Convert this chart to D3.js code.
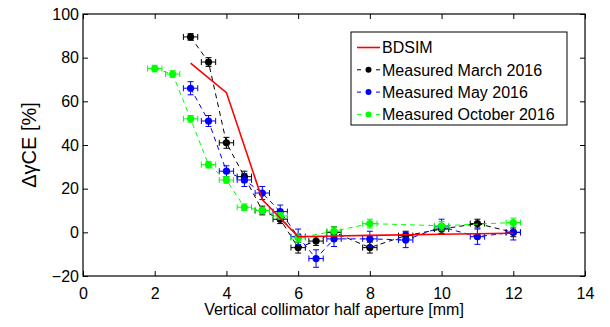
<!DOCTYPE html>
<html>
<head>
<meta charset="utf-8">
<script src="https://cdn.jsdelivr.net/npm/d3@7"></script>
<style>
  body { margin: 0; background: #fff; }
  text { font-family: "Liberation Sans", Arial, sans-serif; }
</style>
</head>
<body>
<div id="chart"></div>
<script>
// values
const bdsimX = [3, 4, 5, 6, 7, 8, 10, 12];
const bdsimY = [77.5, 64, 15, -2, -1.7, -1.4, -0.9, -0.4];

const marchX = [3, 3.5, 4, 4.5, 5, 5.5, 6, 6.5, 7, 8, 9, 10, 11, 12];
const marchY = [89.5, 78, 41, 25.5, 10, 6, -7, -4, 0, -7, -1.5, 1.5, 4, 0];
const marchErr = [1.5, 2, 2.5, 2.5, 2, 2, 2.5, 2, 2.5, 2.5, 2, 2, 2, 2];

const mayX = [3, 3.5, 4, 4.5, 5, 5.5, 6, 6.5, 7, 8, 9, 10, 11, 12];
const mayY = [66, 51, 28, 24, 18, 9.5, -2, -12, -3, -3, -3.5, 2.5, -2, 0];
const mayErr = [3, 2.5, 2.5, 3, 3, 3, 3.5, 4, 3.5, 3.5, 3.5, 3.5, 3.5, 3.5];

const octX = [2, 2.5, 3, 3.5, 4, 4.5, 5, 5.5, 6, 7, 8, 10, 12];
const octY = [75, 72.5, 52, 31, 24, 11.5, 10, 7.5, -2.5, 0.5, 4, 3, 4.5];
const octErr = [1.5, 1.5, 1.5, 1.5, 1.5, 1.5, 1.5, 1.5, 2, 2, 2, 2, 2];

const xErr = 0.2; // horizontal uncertainty in mm

const xTicks = [0, 2, 4, 6, 8, 10, 12, 14];
const yTicks = [-20, 0, 20, 40, 60, 80, 100];

const legendLabels = ['BDSIM', 'Measured March 2016', 'Measured May 2016', 'Measured October 2016'];
const seriesColors = ['#ff0000', '#000000', '#0000ff', '#00ff00'];

const width = 610, height = 327;
const margin = { top: 14, right: 25, bottom: 51, left: 83 };
const innerW = width - margin.left - margin.right;
const innerH = height - margin.top - margin.bottom;

const xScale = d3.scaleLinear().domain([0, 14]).range([0, innerW]);
const yScale = d3.scaleLinear().domain([-20, 100]).range([innerH, 0]);

const svg = d3.select('#chart').append('svg')
    .attr('width', width)
    .attr('height', height);

const g = svg.append('g')
    .attr('transform', 'translate(' + margin.left + ',' + margin.top + ')');

function styleAxis(sel) {
    sel.selectAll('.domain').remove();
    sel.selectAll('.tick line').attr('stroke', '#000').attr('stroke-width', 1);
    sel.selectAll('.tick text').attr('fill', '#000').style('font-size', '16px');
}

// axes, ticks pointing inwards like matlab
g.append('g')
    .attr('transform', 'translate(0,' + innerH + ')')
    .call(d3.axisBottom(xScale).tickValues(xTicks).tickSize(-5).tickPadding(12))
    .call(styleAxis);
g.append('g')
    .call(d3.axisTop(xScale).tickValues(xTicks).tickSize(-5).tickFormat(''))
    .call(styleAxis);
g.append('g')
    .call(d3.axisLeft(yScale).tickValues(yTicks).tickSize(-5).tickPadding(4)
        .tickFormat(d => d < 0 ? '\u2212' + Math.abs(d) : d))
    .call(styleAxis);
g.append('g')
    .attr('transform', 'translate(' + innerW + ',0)')
    .call(d3.axisRight(yScale).tickValues(yTicks).tickSize(-5).tickFormat(''))
    .call(styleAxis);

g.append('rect')
    .attr('width', innerW)
    .attr('height', innerH)
    .attr('fill', 'none')
    .attr('stroke', '#000')
    .attr('stroke-width', 1.2);

// measured series
const measured = [
    { x: marchX, y: marchY, e: marchErr, color: seriesColors[1] },
    { x: mayX, y: mayY, e: mayErr, color: seriesColors[2] },
    { x: octX, y: octY, e: octErr, color: seriesColors[3] }
];

const line = d3.line().x(d => xScale(d[0])).y(d => yScale(d[1]));

measured.forEach(function(s) {
    const pts = s.x.map((x, i) => [x, s.y[i], s.e[i]]);
    const sg = g.append('g');
    sg.append('path')
        .datum(pts)
        .attr('d', line)
        .attr('fill', 'none')
        .attr('stroke', s.color)
        .attr('stroke-width', 1)
        .attr('stroke-dasharray', '5,4');

    const eb = sg.selectAll('.err').data(pts).enter().append('g')
        .attr('stroke', s.color)
        .attr('stroke-width', 1);
    // vertical bars
    eb.append('line')
        .attr('x1', d => xScale(d[0])).attr('x2', d => xScale(d[0]))
        .attr('y1', d => yScale(d[1] - d[2])).attr('y2', d => yScale(d[1] + d[2]));
    eb.append('line')
        .attr('x1', d => xScale(d[0]) - 3).attr('x2', d => xScale(d[0]) + 3)
        .attr('y1', d => yScale(d[1] - d[2])).attr('y2', d => yScale(d[1] - d[2]));
    eb.append('line')
        .attr('x1', d => xScale(d[0]) - 3).attr('x2', d => xScale(d[0]) + 3)
        .attr('y1', d => yScale(d[1] + d[2])).attr('y2', d => yScale(d[1] + d[2]));
    // horizontal bars
    eb.append('line')
        .attr('x1', d => xScale(d[0] - xErr)).attr('x2', d => xScale(d[0] + xErr))
        .attr('y1', d => yScale(d[1])).attr('y2', d => yScale(d[1]));
    eb.append('line')
        .attr('x1', d => xScale(d[0] - xErr)).attr('x2', d => xScale(d[0] - xErr))
        .attr('y1', d => yScale(d[1]) - 3).attr('y2', d => yScale(d[1]) + 3);
    eb.append('line')
        .attr('x1', d => xScale(d[0] + xErr)).attr('x2', d => xScale(d[0] + xErr))
        .attr('y1', d => yScale(d[1]) - 3).attr('y2', d => yScale(d[1]) + 3);

    sg.selectAll('.dot').data(pts).enter().append('circle')
        .attr('class', 'dot')
        .attr('cx', d => xScale(d[0]))
        .attr('cy', d => yScale(d[1]))
        .attr('r', 3.6)
        .attr('fill', s.color);
});

// simulation line
g.append('path')
    .datum(bdsimX.map((x, i) => [x, bdsimY[i]]))
    .attr('d', line)
    .attr('fill', 'none')
    .attr('stroke', seriesColors[0])
    .attr('stroke-width', 1.6);

// axis labels
svg.append('text')
    .attr('x', margin.left + innerW / 2)
    .attr('y', 315)
    .attr('text-anchor', 'middle')
    .style('font-size', '16px')
    .text('Vertical collimator half aperture [mm]');

svg.append('text')
    .attr('transform', 'translate(36,' + (margin.top + innerH / 2) + ') rotate(-90)')
    .attr('text-anchor', 'middle')
    .style('font-size', '20px')
    .text('\u0394\u03b3CE [%]');

// legend
const legend = svg.append('g').attr('transform', 'translate(351,32)');
legend.append('rect')
    .attr('width', 216)
    .attr('height', 93)
    .attr('fill', '#fff')
    .attr('stroke', '#000')
    .attr('stroke-width', 1);

legendLabels.forEach(function(lbl, i) {
    const y = 15.5 + i * 22.3;
    const row = legend.append('g');
    if (i === 0) {
        row.append('line')
            .attr('x1', 6).attr('x2', 29).attr('y1', y).attr('y2', y)
            .attr('stroke', seriesColors[i]).attr('stroke-width', 1.6);
    } else {
        row.append('line')
            .attr('x1', 6).attr('x2', 29).attr('y1', y).attr('y2', y)
            .attr('stroke', seriesColors[i]).attr('stroke-width', 1)
            .attr('stroke-dasharray', '4,15');
        row.append('circle')
            .attr('cx', 17.5).attr('cy', y).attr('r', 3)
            .attr('fill', seriesColors[i]);
    }
    row.append('text')
        .attr('x', 31)
        .attr('y', y)
        .attr('dy', '0.36em')
        .style('font-size', '16px')
        .text(lbl);
});
</script>
</body>
</html>
